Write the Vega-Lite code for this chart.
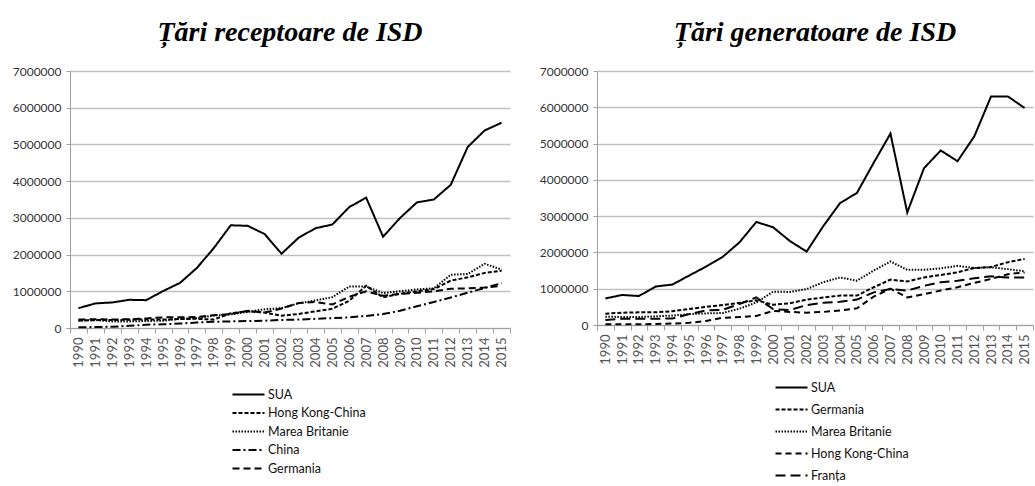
{
  "$schema": "https://vega.github.io/schema/vega-lite/v6.json",
  "background": "white",
  "padding": {"left": 12, "top": 19, "right": 0, "bottom": 0},
  "config": {
    "view": {"stroke": null},
    "font": "Lato",
    "concat": {"spacing": 28},
    "axis": {
      "labelFont": "Lato",
      "labelColor": "#333333",
      "domainColor": "#a0a0a0",
      "tickColor": "#a0a0a0",
      "gridColor": "#c0c0c0",
      "gridWidth": 1.5,
      "title": null
    },
    "legend": {
      "orient": "none",
      "direction": "vertical",
      "title": null,
      "symbolType": "M-3.2,0H3.2",
      "symbolSize": 100,
      "symbolStrokeWidth": 2.2,
      "symbolStrokeColor": "black",
      "labelFont": "Lato",
      "labelFontSize": 12.5,
      "labelColor": "#111111",
      "rowPadding": 5.5,
      "labelOffset": 13
    },
    "title": {
      "font": "Liberation Serif",
      "fontSize": 28,
      "fontStyle": "italic",
      "fontWeight": "bold",
      "color": "black",
      "anchor": "middle",
      "offset": 18
    }
  },
  "resolve": {"scale": {"strokeDash": "independent"}, "legend": {"strokeDash": "independent"}},
  "datasets": {
    "rec": [
      {"country":"SUA","year":1990,"value":540000},{"country":"SUA","year":1991,"value":670000},{"country":"SUA","year":1992,"value":696000},{"country":"SUA","year":1993,"value":768000},{"country":"SUA","year":1994,"value":758000},{"country":"SUA","year":1995,"value":1006000},{"country":"SUA","year":1996,"value":1229000},{"country":"SUA","year":1997,"value":1637000},{"country":"SUA","year":1998,"value":2179000},{"country":"SUA","year":1999,"value":2798000},{"country":"SUA","year":2000,"value":2783000},{"country":"SUA","year":2001,"value":2560000},{"country":"SUA","year":2002,"value":2022000},{"country":"SUA","year":2003,"value":2455000},{"country":"SUA","year":2004,"value":2717000},{"country":"SUA","year":2005,"value":2818000},{"country":"SUA","year":2006,"value":3293000},{"country":"SUA","year":2007,"value":3551000},{"country":"SUA","year":2008,"value":2486000},{"country":"SUA","year":2009,"value":2995000},{"country":"SUA","year":2010,"value":3422000},{"country":"SUA","year":2011,"value":3500000},{"country":"SUA","year":2012,"value":3900000},{"country":"SUA","year":2013,"value":4930000},{"country":"SUA","year":2014,"value":5380000},{"country":"SUA","year":2015,"value":5590000},
      {"country":"Hong Kong-China","year":1990,"value":201000},{"country":"Hong Kong-China","year":1991,"value":215000},{"country":"Hong Kong-China","year":1992,"value":215000},{"country":"Hong Kong-China","year":1993,"value":225000},{"country":"Hong Kong-China","year":1994,"value":235000},{"country":"Hong Kong-China","year":1995,"value":230000},{"country":"Hong Kong-China","year":1996,"value":245000},{"country":"Hong Kong-China","year":1997,"value":250000},{"country":"Hong Kong-China","year":1998,"value":230000},{"country":"Hong Kong-China","year":1999,"value":400000},{"country":"Hong Kong-China","year":2000,"value":455000},{"country":"Hong Kong-China","year":2001,"value":419000},{"country":"Hong Kong-China","year":2002,"value":336000},{"country":"Hong Kong-China","year":2003,"value":381000},{"country":"Hong Kong-China","year":2004,"value":453000},{"country":"Hong Kong-China","year":2005,"value":523000},{"country":"Hong Kong-China","year":2006,"value":742000},{"country":"Hong Kong-China","year":2007,"value":1150000},{"country":"Hong Kong-China","year":2008,"value":835000},{"country":"Hong Kong-China","year":2009,"value":930000},{"country":"Hong Kong-China","year":2010,"value":1000000},{"country":"Hong Kong-China","year":2011,"value":1060000},{"country":"Hong Kong-China","year":2012,"value":1290000},{"country":"Hong Kong-China","year":2013,"value":1380000},{"country":"Hong Kong-China","year":2014,"value":1500000},{"country":"Hong Kong-China","year":2015,"value":1560000},
      {"country":"Marea Britanie","year":1990,"value":204000},{"country":"Marea Britanie","year":1991,"value":215000},{"country":"Marea Britanie","year":1992,"value":180000},{"country":"Marea Britanie","year":1993,"value":180000},{"country":"Marea Britanie","year":1994,"value":190000},{"country":"Marea Britanie","year":1995,"value":200000},{"country":"Marea Britanie","year":1996,"value":250000},{"country":"Marea Britanie","year":1997,"value":270000},{"country":"Marea Britanie","year":1998,"value":340000},{"country":"Marea Britanie","year":1999,"value":370000},{"country":"Marea Britanie","year":2000,"value":439000},{"country":"Marea Britanie","year":2001,"value":510000},{"country":"Marea Britanie","year":2002,"value":540000},{"country":"Marea Britanie","year":2003,"value":670000},{"country":"Marea Britanie","year":2004,"value":750000},{"country":"Marea Britanie","year":2005,"value":840000},{"country":"Marea Britanie","year":2006,"value":1130000},{"country":"Marea Britanie","year":2007,"value":1130000},{"country":"Marea Britanie","year":2008,"value":950000},{"country":"Marea Britanie","year":2009,"value":1000000},{"country":"Marea Britanie","year":2010,"value":1050000},{"country":"Marea Britanie","year":2011,"value":1080000},{"country":"Marea Britanie","year":2012,"value":1450000},{"country":"Marea Britanie","year":2013,"value":1470000},{"country":"Marea Britanie","year":2014,"value":1750000},{"country":"Marea Britanie","year":2015,"value":1590000},
      {"country":"China","year":1990,"value":20000},{"country":"China","year":1991,"value":25000},{"country":"China","year":1992,"value":35000},{"country":"China","year":1993,"value":60000},{"country":"China","year":1994,"value":90000},{"country":"China","year":1995,"value":100000},{"country":"China","year":1996,"value":120000},{"country":"China","year":1997,"value":150000},{"country":"China","year":1998,"value":170000},{"country":"China","year":1999,"value":180000},{"country":"China","year":2000,"value":190000},{"country":"China","year":2001,"value":200000},{"country":"China","year":2002,"value":220000},{"country":"China","year":2003,"value":230000},{"country":"China","year":2004,"value":250000},{"country":"China","year":2005,"value":270000},{"country":"China","year":2006,"value":290000},{"country":"China","year":2007,"value":330000},{"country":"China","year":2008,"value":380000},{"country":"China","year":2009,"value":470000},{"country":"China","year":2010,"value":590000},{"country":"China","year":2011,"value":710000},{"country":"China","year":2012,"value":830000},{"country":"China","year":2013,"value":960000},{"country":"China","year":2014,"value":1090000},{"country":"China","year":2015,"value":1220000},
      {"country":"Germania","year":1990,"value":230000},{"country":"Germania","year":1991,"value":240000},{"country":"Germania","year":1992,"value":230000},{"country":"Germania","year":1993,"value":240000},{"country":"Germania","year":1994,"value":260000},{"country":"Germania","year":1995,"value":290000},{"country":"Germania","year":1996,"value":290000},{"country":"Germania","year":1997,"value":300000},{"country":"Germania","year":1998,"value":350000},{"country":"Germania","year":1999,"value":380000},{"country":"Germania","year":2000,"value":470000},{"country":"Germania","year":2001,"value":420000},{"country":"Germania","year":2002,"value":530000},{"country":"Germania","year":2003,"value":680000},{"country":"Germania","year":2004,"value":710000},{"country":"Germania","year":2005,"value":640000},{"country":"Germania","year":2006,"value":850000},{"country":"Germania","year":2007,"value":1000000},{"country":"Germania","year":2008,"value":880000},{"country":"Germania","year":2009,"value":930000},{"country":"Germania","year":2010,"value":960000},{"country":"Germania","year":2011,"value":1000000},{"country":"Germania","year":2012,"value":1070000},{"country":"Germania","year":2013,"value":1080000},{"country":"Germania","year":2014,"value":1100000},{"country":"Germania","year":2015,"value":1150000}
    ],
    "gen": [
      {"country":"SUA","year":1990,"value":732000},{"country":"SUA","year":1991,"value":828000},{"country":"SUA","year":1992,"value":799000},{"country":"SUA","year":1993,"value":1061000},{"country":"SUA","year":1994,"value":1115000},{"country":"SUA","year":1995,"value":1364000},{"country":"SUA","year":1996,"value":1608000},{"country":"SUA","year":1997,"value":1879000},{"country":"SUA","year":1998,"value":2280000},{"country":"SUA","year":1999,"value":2840000},{"country":"SUA","year":2000,"value":2694000},{"country":"SUA","year":2001,"value":2315000},{"country":"SUA","year":2002,"value":2023000},{"country":"SUA","year":2003,"value":2729000},{"country":"SUA","year":2004,"value":3363000},{"country":"SUA","year":2005,"value":3638000},{"country":"SUA","year":2006,"value":4470000},{"country":"SUA","year":2007,"value":5275000},{"country":"SUA","year":2008,"value":3102000},{"country":"SUA","year":2009,"value":4322000},{"country":"SUA","year":2010,"value":4810000},{"country":"SUA","year":2011,"value":4514000},{"country":"SUA","year":2012,"value":5200000},{"country":"SUA","year":2013,"value":6300000},{"country":"SUA","year":2014,"value":6300000},{"country":"SUA","year":2015,"value":5980000},
      {"country":"Germania","year":1990,"value":310000},{"country":"Germania","year":1991,"value":340000},{"country":"Germania","year":1992,"value":350000},{"country":"Germania","year":1993,"value":350000},{"country":"Germania","year":1994,"value":380000},{"country":"Germania","year":1995,"value":440000},{"country":"Germania","year":1996,"value":500000},{"country":"Germania","year":1997,"value":550000},{"country":"Germania","year":1998,"value":610000},{"country":"Germania","year":1999,"value":680000},{"country":"Germania","year":2000,"value":560000},{"country":"Germania","year":2001,"value":600000},{"country":"Germania","year":2002,"value":700000},{"country":"Germania","year":2003,"value":760000},{"country":"Germania","year":2004,"value":810000},{"country":"Germania","year":2005,"value":810000},{"country":"Germania","year":2006,"value":1040000},{"country":"Germania","year":2007,"value":1250000},{"country":"Germania","year":2008,"value":1200000},{"country":"Germania","year":2009,"value":1310000},{"country":"Germania","year":2010,"value":1380000},{"country":"Germania","year":2011,"value":1450000},{"country":"Germania","year":2012,"value":1570000},{"country":"Germania","year":2013,"value":1600000},{"country":"Germania","year":2014,"value":1730000},{"country":"Germania","year":2015,"value":1820000},
      {"country":"Marea Britanie","year":1990,"value":230000},{"country":"Marea Britanie","year":1991,"value":220000},{"country":"Marea Britanie","year":1992,"value":220000},{"country":"Marea Britanie","year":1993,"value":240000},{"country":"Marea Britanie","year":1994,"value":260000},{"country":"Marea Britanie","year":1995,"value":300000},{"country":"Marea Britanie","year":1996,"value":320000},{"country":"Marea Britanie","year":1997,"value":330000},{"country":"Marea Britanie","year":1998,"value":450000},{"country":"Marea Britanie","year":1999,"value":620000},{"country":"Marea Britanie","year":2000,"value":920000},{"country":"Marea Britanie","year":2001,"value":910000},{"country":"Marea Britanie","year":2002,"value":990000},{"country":"Marea Britanie","year":2003,"value":1180000},{"country":"Marea Britanie","year":2004,"value":1310000},{"country":"Marea Britanie","year":2005,"value":1220000},{"country":"Marea Britanie","year":2006,"value":1500000},{"country":"Marea Britanie","year":2007,"value":1750000},{"country":"Marea Britanie","year":2008,"value":1520000},{"country":"Marea Britanie","year":2009,"value":1520000},{"country":"Marea Britanie","year":2010,"value":1560000},{"country":"Marea Britanie","year":2011,"value":1630000},{"country":"Marea Britanie","year":2012,"value":1570000},{"country":"Marea Britanie","year":2013,"value":1590000},{"country":"Marea Britanie","year":2014,"value":1540000},{"country":"Marea Britanie","year":2015,"value":1480000},
      {"country":"Hong Kong-China","year":1990,"value":20000},{"country":"Hong Kong-China","year":1991,"value":20000},{"country":"Hong Kong-China","year":1992,"value":20000},{"country":"Hong Kong-China","year":1993,"value":30000},{"country":"Hong Kong-China","year":1994,"value":40000},{"country":"Hong Kong-China","year":1995,"value":60000},{"country":"Hong Kong-China","year":1996,"value":110000},{"country":"Hong Kong-China","year":1997,"value":200000},{"country":"Hong Kong-China","year":1998,"value":220000},{"country":"Hong Kong-China","year":1999,"value":250000},{"country":"Hong Kong-China","year":2000,"value":390000},{"country":"Hong Kong-China","year":2001,"value":360000},{"country":"Hong Kong-China","year":2002,"value":340000},{"country":"Hong Kong-China","year":2003,"value":360000},{"country":"Hong Kong-China","year":2004,"value":400000},{"country":"Hong Kong-China","year":2005,"value":460000},{"country":"Hong Kong-China","year":2006,"value":780000},{"country":"Hong Kong-China","year":2007,"value":1000000},{"country":"Hong Kong-China","year":2008,"value":760000},{"country":"Hong Kong-China","year":2009,"value":850000},{"country":"Hong Kong-China","year":2010,"value":950000},{"country":"Hong Kong-China","year":2011,"value":1040000},{"country":"Hong Kong-China","year":2012,"value":1160000},{"country":"Hong Kong-China","year":2013,"value":1270000},{"country":"Hong Kong-China","year":2014,"value":1400000},{"country":"Hong Kong-China","year":2015,"value":1450000},
      {"country":"Franța","year":1990,"value":140000},{"country":"Franța","year":1991,"value":170000},{"country":"Franța","year":1992,"value":170000},{"country":"Franța","year":1993,"value":170000},{"country":"Franța","year":1994,"value":180000},{"country":"Franța","year":1995,"value":300000},{"country":"Franța","year":1996,"value":400000},{"country":"Franța","year":1997,"value":420000},{"country":"Franța","year":1998,"value":580000},{"country":"Franța","year":1999,"value":760000},{"country":"Franța","year":2000,"value":440000},{"country":"Franța","year":2001,"value":410000},{"country":"Franța","year":2002,"value":550000},{"country":"Franța","year":2003,"value":610000},{"country":"Franța","year":2004,"value":640000},{"country":"Franța","year":2005,"value":700000},{"country":"Franța","year":2006,"value":900000},{"country":"Franța","year":2007,"value":990000},{"country":"Franța","year":2008,"value":950000},{"country":"Franța","year":2009,"value":1080000},{"country":"Franța","year":2010,"value":1180000},{"country":"Franța","year":2011,"value":1220000},{"country":"Franța","year":2012,"value":1290000},{"country":"Franța","year":2013,"value":1340000},{"country":"Franța","year":2014,"value":1310000},{"country":"Franța","year":2015,"value":1310000}
    ]
  },
  "hconcat": [
    {
      "title": {"text": "Țări receptoare de ISD"},
      "width": 440,
      "height": 257,
      "data": {"name": "rec"},
      "mark": {"type": "line", "color": "black", "strokeWidth": 2},
      "encoding": {
        "x": {"field": "year", "type": "ordinal",
          "scale": {"type": "band", "paddingInner": 0, "paddingOuter": 0},
          "axis": {"labelAngle": 270, "labelFontSize": 13, "tickBand": "extent", "tickSize": 5, "labelPadding": 4, "grid": false, "labelColor": "#555555"}},
        "y": {"field": "value", "type": "quantitative",
          "scale": {"domain": [0, 7000000], "nice": false},
          "axis": {"values": [0,1000000,2000000,3000000,4000000,5000000,6000000,7000000], "format": "d", "labelFontSize": 12, "tickSize": 4, "labelPadding": 5, "grid": true}},
        "strokeDash": {"field": "country", "type": "nominal",
          "scale": {"domain": ["SUA","Hong Kong-China","Marea Britanie","China","Germania"],
                    "range": [[1,0],[4,2],[1.5,1.5],[8,3,2,3],[7,4]]},
          "legend": {"legendX": 172, "legendY": 317}}
      }
    },
    {
      "title": {"text": "Țări generatoare de ISD"},
      "width": 436,
      "height": 254,
      "data": {"name": "gen"},
      "mark": {"type": "line", "color": "black", "strokeWidth": 2},
      "encoding": {
        "x": {"field": "year", "type": "ordinal",
          "scale": {"type": "band", "paddingInner": 0, "paddingOuter": 0},
          "axis": {"labelAngle": 270, "labelFontSize": 13, "tickBand": "extent", "tickSize": 5, "labelPadding": 4, "grid": false, "labelColor": "#555555"}},
        "y": {"field": "value", "type": "quantitative",
          "scale": {"domain": [0, 7000000], "nice": false},
          "axis": {"values": [0,1000000,2000000,3000000,4000000,5000000,6000000,7000000], "format": "d", "labelFontSize": 12, "tickSize": 4, "labelPadding": 5, "grid": true}},
        "strokeDash": {"field": "country", "type": "nominal",
          "scale": {"domain": ["SUA","Germania","Marea Britanie","Hong Kong-China","Franța"],
                    "range": [[1,0],[4,2],[1.5,1.5],[6,4],[10,5]]},
          "legend": {"legendX": 188, "legendY": 310, "rowPadding": 9}}
      }
    }
  ]
}
